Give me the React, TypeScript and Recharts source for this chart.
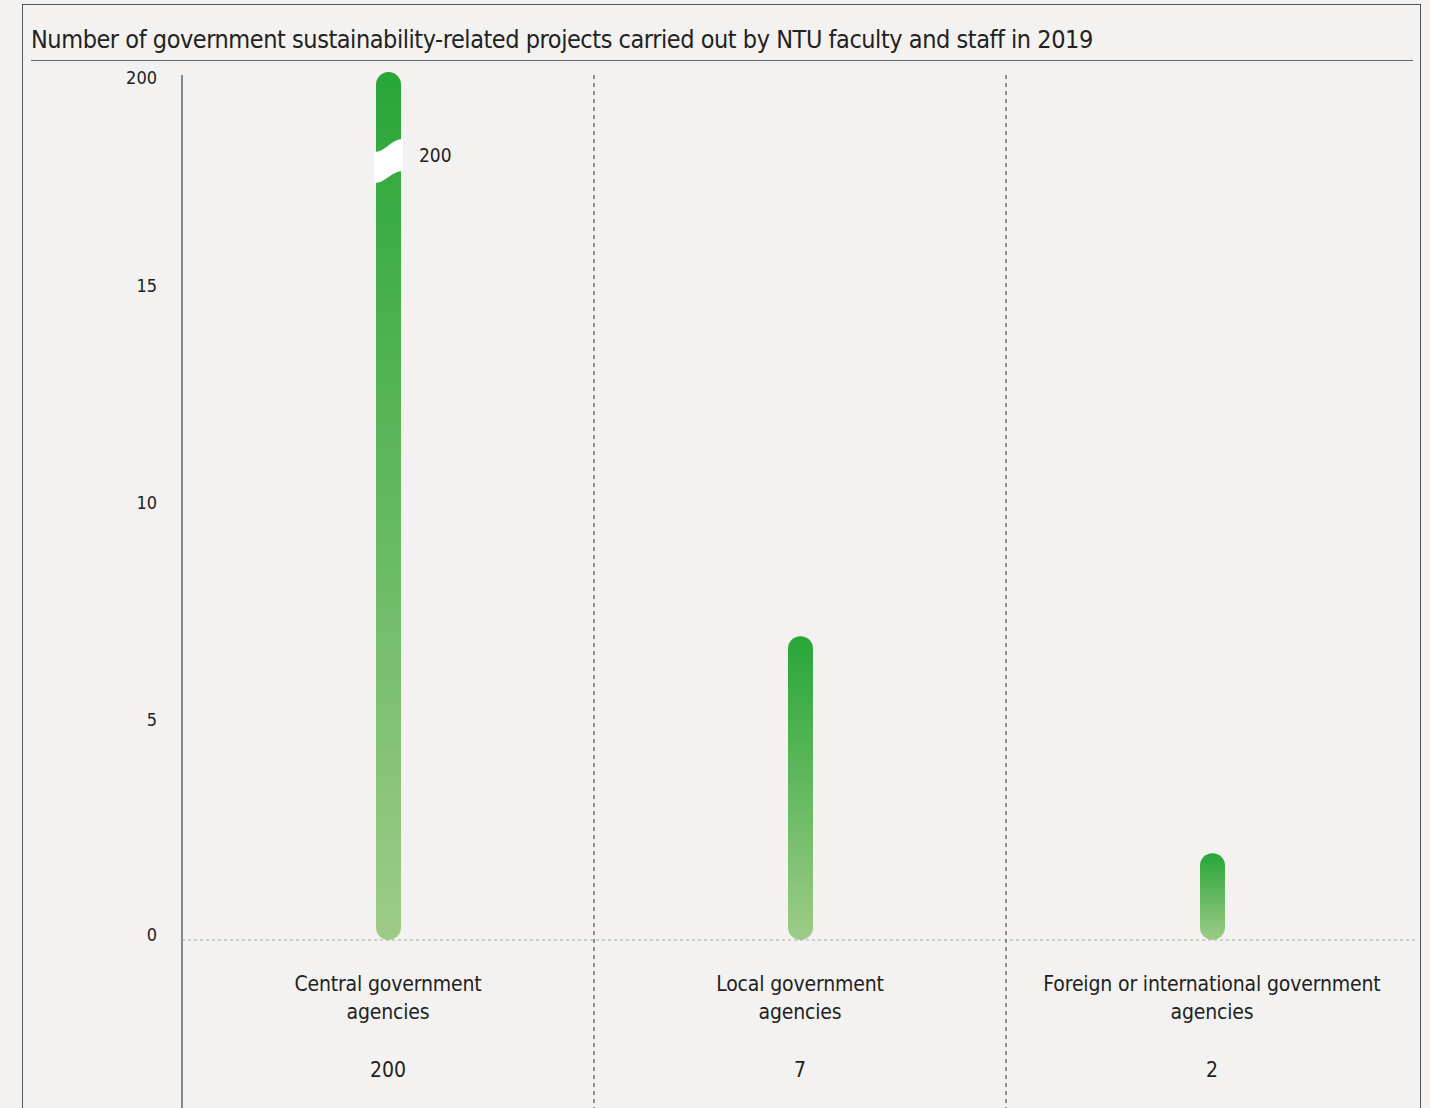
import React from "react";
import { BarChart, Bar, XAxis, YAxis } from "recharts";

// ---- data ----
const categories = [
  "Central government agencies",
  "Local government agencies",
  "Foreign or international government agencies",
];
const categoryLines = [
  ["Central government", "agencies"],
  ["Local government", "agencies"],
  ["Foreign or international government", "agencies"],
];
const values = [200, 7, 2];
const AXIS_CAP = 20; // broken axis: top tick stands for 200
const yTicks = [0, 5, 10, 15, 20];
const yTickLabels = ["0", "5", "10", "15", "200"];
const TITLE =
  "Number of government sustainability-related projects carried out by NTU faculty and staff in 2019";

const chartData = categories.map((name, i) => ({
  name,
  value: values[i],
  plotted: Math.min(values[i], AXIS_CAP),
}));

// ---- layout ----
const W = 1430;
const H = 1108;
const M = { top: 72, right: 12, bottom: 0, left: 0 };
const Y_AXIS_W = 182;
const X_AXIS_H = 168;
const PLOT_W = W - M.left - M.right - Y_AXIS_W;
const BAND = PLOT_W / categories.length;
const FONT = "'DejaVu Sans Condensed', 'Liberation Sans Narrow', sans-serif";
const BG = "#f3f2f0";
const TXT = "#222";

const CatTick = (props: any) => {
  const { x, y, payload } = props;
  const i = payload.index;
  const lines = categoryLines[i];
  return (
    <g>
      {i === 0 && (
        <line x1={x - BAND / 2} x2={x - BAND / 2} y1={y - 865} y2={y + 170} stroke="#888" strokeWidth={2} />
      )}
      {i < categories.length - 1 && (
        <line
          x1={x + BAND / 2}
          x2={x + BAND / 2}
          y1={y - 865}
          y2={y + 170}
          stroke="#6f6f6f"
          strokeWidth={1.5}
          strokeDasharray="4 4"
        />
      )}
      {lines.map((ln, k) => (
        <text
          key={k}
          x={x}
          y={y + 51 + k * 28}
          textAnchor="middle"
          fontFamily={FONT}
          fontSize={21}
          letterSpacing={-0.15}
          fill={TXT}
        >
          {ln}
        </text>
      ))}
      <text x={x} y={y + 137} textAnchor="middle" fontFamily={FONT} fontSize={21} fill={TXT}>
        {values[i]}
      </text>
    </g>
  );
};

const ValTick = (props: any) => {
  const { x, y, payload } = props;
  const idx = yTicks.indexOf(payload.value);
  const dy = payload.value === AXIS_CAP ? 12 : payload.value === 0 ? 1 : 3;
  return (
    <text x={x} y={y + dy} textAnchor="end" fontFamily={FONT} fontSize={18} fill={TXT}>
      {yTickLabels[idx]}
    </text>
  );
};

const PillBar = (props: any) => {
  const { x, y, width, height, payload } = props;
  if (!height || height <= 0) return null;
  const r = width / 2;
  const broken = payload.value > AXIS_CAP;
  return (
    <g>
      <rect x={x} y={y} width={width} height={height} rx={r} ry={r} fill="url(#pillGrad)" />
      {broken && (
        <g>
          <path
            d={`M ${x - 2} ${y + 80} C ${x + width * 0.4} ${y + 80} ${x + width * 0.6} ${y + 67} ${x + width + 2} ${
              y + 67
            } L ${x + width + 2} ${y + 99} C ${x + width * 0.6} ${y + 99} ${x + width * 0.4} ${y + 111} ${x - 2} ${
              y + 111
            } Z`}
            fill="#ffffff"
          />
          <text x={x + width + 18} y={y + 90} fontFamily={FONT} fontSize={19} fill={TXT}>
            {payload.value}
          </text>
        </g>
      )}
    </g>
  );
};

export default function App() {
  return (
    <div style={{ position: "absolute", left: 0, top: 0, width: W, height: H, background: BG, overflow: "hidden" }}>
      <div
        style={{
          position: "absolute",
          left: 22,
          top: 4,
          width: 1397,
          height: 1200,
          border: "1.5px solid #555",
        }}
      />
      <div
        style={{
          position: "absolute",
          left: 31,
          top: 24,
          fontFamily: FONT,
          fontSize: 25,
          letterSpacing: -0.45,
          color: TXT,
          whiteSpace: "nowrap",
          lineHeight: "32px",
        }}
      >
        {TITLE}
      </div>
      <div style={{ position: "absolute", left: 31, top: 60, width: 1382, height: 1, background: "#666" }} />
      <div style={{ position: "absolute", left: 0, top: 0 }}>
        <BarChart width={W} height={H} data={chartData} margin={M} barCategoryGap="0%">
          <defs>
            <linearGradient id="pillGrad" x1="0" y1="0" x2="0" y2="1">
              <stop offset="0%" stopColor="#28a638" />
              <stop offset="100%" stopColor="#9ecb87" />
            </linearGradient>
          </defs>
          <XAxis
            dataKey="name"
            height={X_AXIS_H}
            interval={0}
            tickLine={false}
            tickSize={0}
            tickMargin={0}
            axisLine={{ stroke: "#aaa", strokeDasharray: "3 3", strokeWidth: 1 }}
            tick={<CatTick />}
          />
          <YAxis
            width={Y_AXIS_W}
            domain={[0, AXIS_CAP]}
            ticks={yTicks}
            allowDataOverflow
            tickLine={false}
            axisLine={false}
            tickSize={0}
            tickMargin={25}
            tick={<ValTick />}
          />
          <Bar dataKey="plotted" barSize={25} isAnimationActive={false} shape={<PillBar />} />
        </BarChart>
      </div>
    </div>
  );
}
